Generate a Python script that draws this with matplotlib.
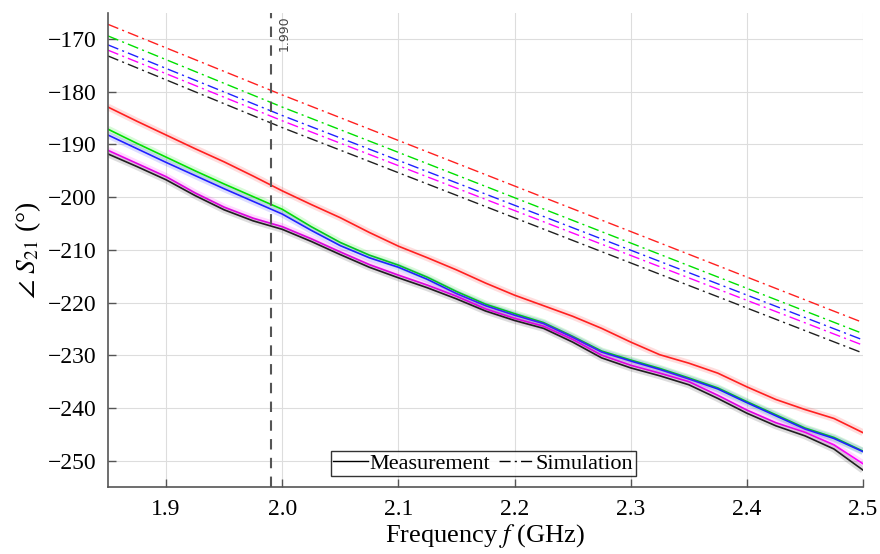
import matplotlib
matplotlib.use('Agg')
import matplotlib.pyplot as plt
from matplotlib.lines import Line2D

plt.rcParams['font.family'] = ['Liberation Serif', 'DejaVu Serif']
plt.rcParams['mathtext.fontset'] = 'stix'

# frequency grid of the measured curves (GHz)
freq = [1.85, 1.875, 1.9, 1.925, 1.95, 1.975, 2.0, 2.025, 2.05, 2.075, 2.1,
        2.125, 2.15, 2.175, 2.2, 2.225, 2.25, 2.275, 2.3, 2.325, 2.35, 2.375,
        2.4, 2.425, 2.45, 2.475, 2.5]

# measured phase of S21 (deg)
meas_red = [-182.9, -185.6, -188.2, -190.8, -193.3, -196.0, -198.8, -201.4, -203.9,
            -206.7, -209.3, -211.5, -213.8, -216.3, -218.6, -220.6, -222.6, -224.9,
            -227.5, -229.9, -231.5, -233.4, -236.0, -238.4, -240.3, -242.0, -244.7]
meas_green = [-187.1, -189.8, -192.4, -195.0, -197.5, -199.9, -202.3, -205.6, -208.6,
              -211.0, -212.9, -215.2, -217.9, -220.3, -222.1, -223.8, -226.4, -229.2,
              -230.9, -232.5, -234.3, -236.2, -238.8, -241.3, -243.8, -245.6, -248.2]
meas_blue = [-188.2, -190.8, -193.4, -195.9, -198.4, -200.8, -203.2, -206.3, -209.2,
             -211.5, -213.3, -215.6, -218.3, -220.6, -222.4, -224.0, -226.6, -229.4,
             -231.1, -232.7, -234.5, -236.4, -239.0, -241.5, -244.0, -245.8, -248.3]
meas_magenta = [-191.1, -193.6, -196.1, -199.2, -201.9, -204.0, -205.6, -207.9, -210.4,
                -212.8, -214.8, -216.7, -218.8, -221.2, -223.0, -224.5, -227.0, -230.0,
                -231.9, -233.4, -235.0, -237.6, -240.4, -242.8, -244.6, -247.0, -250.6]
meas_black = [-191.8, -194.2, -196.7, -199.7, -202.4, -204.5, -206.1, -208.4, -210.9,
              -213.3, -215.3, -217.2, -219.3, -221.6, -223.4, -224.9, -227.5, -230.5,
              -232.4, -233.9, -235.6, -238.2, -241.0, -243.4, -245.3, -247.8, -251.8]

# simulated phase of S21 (deg)
sim_freq = [1.85, 2.0, 2.5]
sim_red = [-167.2, -180.6, -223.8]
sim_green = [-169.4, -182.9, -225.9]
sim_blue = [-171.1, -184.5, -227.1]
sim_magenta = [-172.1, -185.5, -228.1]
sim_black = [-173.2, -186.8, -229.6]

marker_freq = 1.990

colors = ['#ff2020', '#00e000', '#2020ff', '#ff00ff', '#202020']
meas = [meas_red, meas_green, meas_blue, meas_magenta, meas_black]
sims = [sim_red, sim_green, sim_blue, sim_magenta, sim_black]
dashdot = (0, (8, 3, 1.5, 3))

fig = plt.figure(figsize=(8.8, 5.54), dpi=100)
ax = fig.add_axes([0.1227, 0.121, 0.858, 0.856])

for c, y in zip(colors, sims):
    ax.plot(sim_freq, y, color=c, lw=1.0, linestyle=dashdot)

for c, y in zip(colors, meas):
    ax.plot(freq, y, color=c, lw=5, alpha=0.15, solid_capstyle='butt')
    ax.plot(freq, y, color=c, lw=1.2)

ax.axvline(marker_freq, color='#555555', lw=1.5, linestyle=(0, (5, 4)))
ax.text(marker_freq + 0.006, -165.5, f'{marker_freq:.3f}', rotation=90,
        ha='left', va='top', fontsize=9, color='#444444', family='DejaVu Sans')

ax.set_xlim(1.85, 2.5)
ax.set_ylim(-255, -165)
ax.set_xticks([1.9, 2.0, 2.1, 2.2, 2.3, 2.4, 2.5])
ax.set_xticklabels(['1.9', '2.0', '2.1', '2.2', '2.3', '2.4', '2.5'])
ax.set_yticks(range(-250, -165, 10))
ax.grid(True, color='#dddddd', lw=0.8)
ax.set_axisbelow(True)
for s in ['top', 'right']:
    ax.spines[s].set_visible(False)
for s in ['left', 'bottom']:
    ax.spines[s].set_color('#555555')
    ax.spines[s].set_linewidth(1.2)
ax.tick_params(direction='in', length=6, width=1, color='#555555',
               labelsize=17, pad=8)
ax.tick_params(axis='x', pad=9)

ax.set_xlabel('Frequency $f$ (GHz)', fontsize=19, labelpad=1)
ax.set_ylabel(r'$\angle\ S_{21}$ (°)', fontsize=20, labelpad=4)

handles = [Line2D([], [], color='black', lw=1.0),
           Line2D([], [], color='black', lw=1.0, linestyle=dashdot)]
leg = ax.legend(handles, ['Measurement', 'Simulation'], ncol=2, loc='lower center',
                bbox_to_anchor=(0.497, 0.023), fontsize=16, frameon=True,
                fancybox=False, edgecolor='black', borderpad=0.1,
                handlelength=1.6, handletextpad=0.05, columnspacing=0.4,
                borderaxespad=0)
leg.get_frame().set_linewidth(1.0)

fig.savefig('out.png', dpi=100)
